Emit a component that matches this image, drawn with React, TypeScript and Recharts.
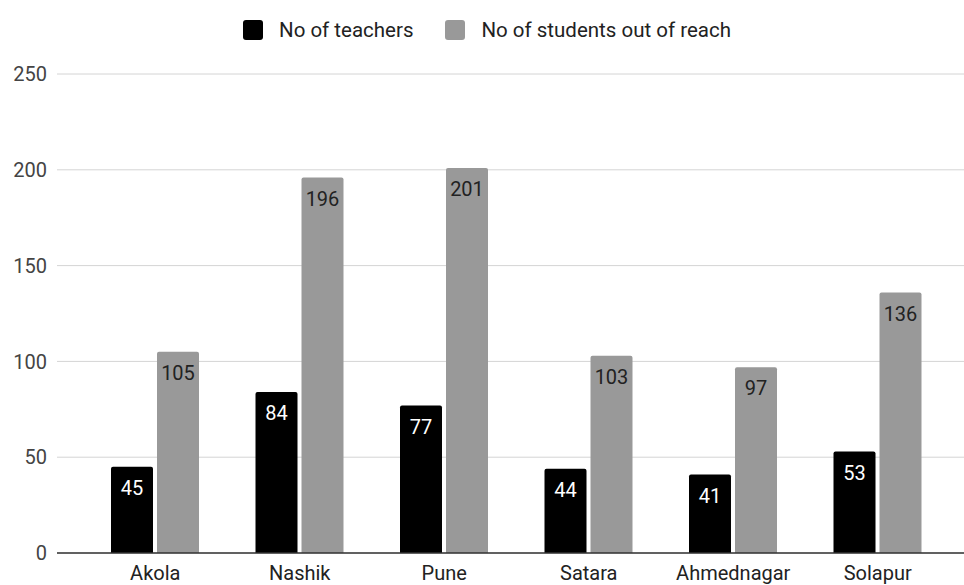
import { BarChart, Bar, CartesianGrid, LabelList, Legend, XAxis, YAxis } from "recharts";

const districts = ["Akola", "Nashik", "Pune", "Satara", "Ahmednagar", "Solapur"];
const teachers = [45, 84, 77, 44, 41, 53];
const studentsOutOfReach = [105, 196, 201, 103, 97, 136];
const yTicks = [0, 50, 100, 150, 200, 250];

const series = [
  { key: "teachers", name: "No of teachers", color: "#000000", labelColor: "#ffffff" },
  { key: "students", name: "No of students out of reach", color: "#999999", labelColor: "#222222" }
];

const data = districts.map((district, i) => ({
  district,
  teachers: teachers[i],
  students: studentsOutOfReach[i]
}));

const font = "Roboto, 'Noto Sans', sans-serif";

// legend row drawn as html so the square size and spacing can be set directly
function LegendRow() {
  return (
    <div style={{ display: "flex", justifyContent: "center", alignItems: "center", height: 40, paddingLeft: 10, fontFamily: font, fontSize: 20.5, color: "#222" }}>
      {series.map((s, i) => (
        <div key={s.key} style={{ display: "flex", alignItems: "center", marginLeft: i === 0 ? 0 : 32 }}>
          <span style={{ display: "inline-block", width: 20, height: 20, borderRadius: 3, background: s.color, marginRight: 16 }} />
          <span>{s.name}</span>
        </div>
      ))}
    </div>
  );
}

export default function App() {
  return (
    <div style={{ position: "fixed", top: 0, left: 0, width: 964, height: 585, background: "#fff", fontFamily: font }}>
      <BarChart
        width={964}
        height={585}
        data={data}
        margin={{ top: 34, right: 0, bottom: 0, left: 0 }}
        barGap={4}
        barSize={42}
      >
        <Legend verticalAlign="top" content={<LegendRow />} wrapperStyle={{ top: 10, left: 0, width: 964 }} />
        <CartesianGrid vertical={false} stroke="#d4d4d4" />
        <XAxis
          dataKey="district"
          height={32}
          padding={{ left: 26, right: 14 }}
          tickLine={false}
          tickSize={0}
          tickMargin={13}
          axisLine={{ stroke: "#333", strokeWidth: 1.5 }}
          tick={{ fill: "#222", fontSize: 20, fontFamily: font }}
          interval={0}
        />
        <YAxis
          width={57}
          domain={[0, 250]}
          ticks={yTicks}
          axisLine={false}
          tickLine={false}
          tickSize={0}
          tickMargin={10}
          tick={{ fill: "#444", fontSize: 20, fontFamily: font }}
        />
        {series.map((s) => (
          <Bar key={s.key} dataKey={s.key} name={s.name} fill={s.color} radius={[2, 2, 0, 0]} isAnimationActive={false}>
            <LabelList dataKey={s.key} position="insideTop" offset={14} fill={s.labelColor} fontSize={20} fontFamily={font} />
          </Bar>
        ))}
      </BarChart>
    </div>
  );
}
